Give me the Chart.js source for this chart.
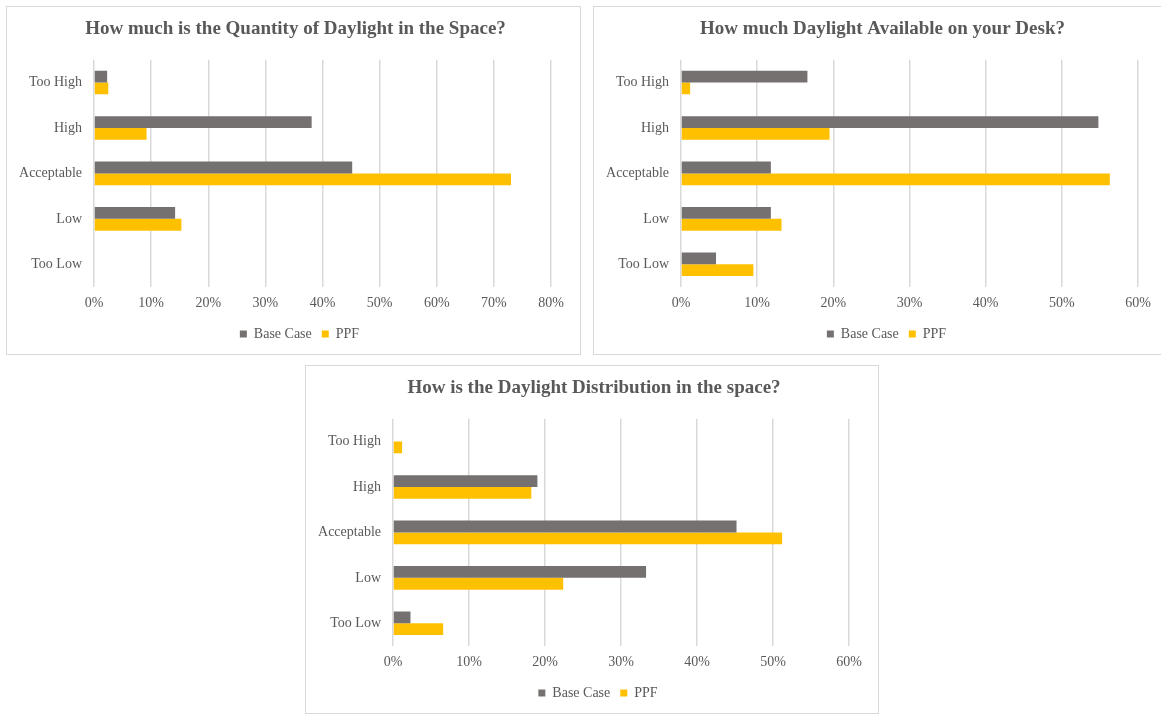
<!DOCTYPE html>
<html>
<head>
<meta charset="utf-8">
<script src="https://cdn.jsdelivr.net/npm/chart.js@4/dist/chart.umd.min.js"></script>
<style>
  html, body { margin: 0; padding: 0; background: #ffffff; width: 1161px; height: 714px; overflow: hidden; position: relative; }
  .box { position: absolute; border: 1px solid #d9d9d9; background: #fff; }
  .box canvas { display: block; }
</style>
</head>
<body>
<div class="box" style="left:6px; top:6px; width:573px; height:347px;"><canvas id="c1" width="573" height="347"></canvas></div>
<div class="box" style="left:593px; top:6px; width:573px; height:347px;"><canvas id="c2" width="573" height="347"></canvas></div>
<div class="box" style="left:305px; top:365px; width:572px; height:347px;"><canvas id="c3" width="572" height="347"></canvas></div>
<script>
const categories = ['Too High', 'High', 'Acceptable', 'Low', 'Too Low'];
const seriesNames = ['Base Case', 'PPF'];

const title1 = 'How much is the Quantity of Daylight in the Space?';
const base1 = [2.3, 38.1, 45.2, 14.2, 0];
const ppf1  = [2.5, 9.2, 73.0, 15.3, 0];
const max1 = 80;

const title2 = 'How much Daylight Available on your Desk?';
const base2 = [16.6, 54.8, 11.8, 11.8, 4.6];
const ppf2  = [1.2, 19.5, 56.3, 13.2, 9.5];
const max2 = 60;

const title3 = 'How is the Daylight Distribution in the space?';
const base3 = [0, 19.0, 45.2, 33.3, 2.3];
const ppf3  = [1.2, 18.2, 51.2, 22.4, 6.6];
const max3 = 60;

const tickStep = 10;

const GREY = '#767171';
const GOLD = '#FFC000';
const TEXT = '#595959';
const GRID = '#d9d9d9';
const SERIF = '"Liberation Serif", "Times New Roman", Times, serif';

// Center title and legend on the whole canvas (as in the original), not on the padded area
const centerBlocks = {
  id: 'centerBlocks',
  beforeDraw(chart) {
    if (chart.titleBlock) { chart.titleBlock.left = 2; chart.titleBlock.right = chart.width + 2; }
    if (chart.legend) { chart.legend.left = 6; chart.legend.right = chart.width + 6; }
  }
};

function makeChart(id, title, base, ppf, max) {
  return new Chart(document.getElementById(id), {
    type: 'bar',
    data: {
      labels: categories,
      datasets: [
        { label: seriesNames[0], data: base, backgroundColor: GREY, categoryPercentage: 0.52, barPercentage: 1.0 },
        { label: seriesNames[1], data: ppf, backgroundColor: GOLD, categoryPercentage: 0.52, barPercentage: 1.0 }
      ]
    },
    plugins: [centerBlocks],
    options: {
      indexAxis: 'y',
      responsive: false,
      animation: false,
      layout: { padding: { left: 0, right: 29, top: 0, bottom: 3 } },
      plugins: {
        title: {
          display: true, text: title, color: TEXT,
          font: { family: SERIF, size: 19, weight: 'bold' },
          padding: { top: 11, bottom: 19 }
        },
        legend: {
          display: true, position: 'bottom',
          labels: { color: TEXT, font: { family: SERIF, size: 14 }, boxWidth: 7, boxHeight: 7, padding: 10 }
        },
        tooltip: { enabled: false }
      },
      scales: {
        x: {
          min: 0, max: max,
          ticks: { stepSize: tickStep, color: TEXT, font: { family: SERIF, size: 14 }, padding: 8,
                   callback: v => v + '%' },
          grid: { color: GRID, lineWidth: 1.5, drawTicks: false },
          border: { display: false },
          afterFit: s => { s.height = 30; }
        },
        y: {
          ticks: { color: TEXT, font: { family: SERIF, size: 14 }, padding: 12 },
          grid: { display: false, drawTicks: false },
          border: { display: false },
          afterFit: s => { s.width = 87; }
        }
      }
    }
  });
}

makeChart('c1', title1, base1, ppf1, max1);
makeChart('c2', title2, base2, ppf2, max2);
makeChart('c3', title3, base3, ppf3, max3);
</script>
</body>
</html>
